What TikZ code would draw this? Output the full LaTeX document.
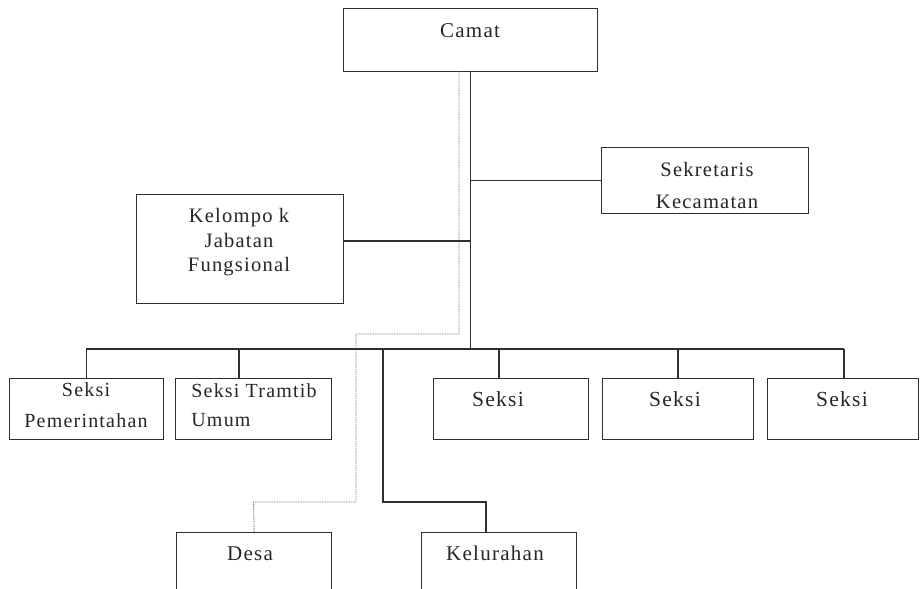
\documentclass[tikz,border=0pt]{standalone}
\usepackage{fontspec}
\setmainfont{Liberation Serif}[LetterSpace=6]
\definecolor{ink}{HTML}{262626}
\definecolor{linec}{HTML}{2E2E2E}
\definecolor{dotc}{HTML}{7A7A7A}
\newcommand\fsz[2]{\fontsize{#1}{#2}\selectfont}
\tikzset{
  orgbox/.style={draw=linec, line width=1.4pt, rectangle, inner sep=0pt, anchor=north west},
  lbl/.style={text=ink, inner sep=0pt, align=center},
  conn/.style={draw=linec, line width=1.4pt},
  dotl/.style={draw=dotc, line width=0.9pt, dash pattern=on 1.4pt off 1pt},
}
\begin{document}
\begin{tikzpicture}[x=1pt,y=-1pt]
\useasboundingbox (0,0) rectangle (921,589);
\clip (0,0) rectangle (921,589);
\fill[white] (0,0) rectangle (921,589);

% boxes
\node[orgbox, minimum width=254, minimum height=63] (camat) at (343,8) {};
\node[orgbox, minimum width=207, minimum height=66] (sek) at (601,147) {};
\node[orgbox, minimum width=207, minimum height=109] (kel) at (136,194) {};
\node[orgbox, minimum width=154, minimum height=61] (pem) at (9,378) {};
\node[orgbox, minimum width=156, minimum height=61] (tram) at (175,378) {};
\node[orgbox, minimum width=155, minimum height=61] (s1) at (433,378) {};
\node[orgbox, minimum width=151, minimum height=61] (s2) at (602,378) {};
\node[orgbox, minimum width=151, minimum height=61] (s3) at (767,378) {};
\node[orgbox, minimum width=155, minimum height=90] (desa) at (176,532) {};
\node[orgbox, minimum width=155, minimum height=90] (kelur) at (421,532) {};

% labels
\node[lbl, anchor=base, font=\fsz{21}{25}] (tcamat) at (470,37.3) {Camat};
\node[lbl, font=\fsz{20.5}{32}] (tsek) at (707,185.5) {Sekretaris\\Kecamatan};
\node[lbl, font=\fsz{20.5}{24.5}] (tkel) at (239,242.5) {Kelompo k\\Jabatan\\Fungsional};
\node[lbl, font=\fsz{20}{30.5}] (tpem) at (86,405.2) {Seksi\\Pemerintahan};
\node[lbl, align=left, font=\fsz{20}{29}] (ttram) at (254,405) {Seksi Tramtib\\Umum};
\node[lbl, anchor=base, font=\fsz{21.5}{25}] (ts1) at (498,406.7) {Seksi};
\node[lbl, anchor=base, font=\fsz{21.5}{25}] (ts2) at (675,406.7) {Seksi};
\node[lbl, anchor=base, font=\fsz{21.5}{25}] (ts3) at (842,406.7) {Seksi};
\node[lbl, anchor=base, font=\fsz{21}{25}] (tdesa) at (250,560.7) {Desa};
\node[lbl, anchor=base, font=\fsz{21}{25}] (tkelur) at (495,560.7) {Kelurahan};

% junction coordinates
\coordinate (busL) at (86,349);
\coordinate (busR) at (844,349);
\coordinate (kj) at (343,241);
\coordinate (dt) at (239,378);
\coordinate (d1) at (499,378);
\coordinate (d2) at (678,378);
\coordinate (d3) at (844,378);
\coordinate (kj2) at (383,349);
\coordinate (kbend) at (383,502);
\coordinate (kt) at (486,532);
\coordinate (dot0) at (459,71);
\coordinate (dotA) at (356,334);
\coordinate (dotB) at (253.5,502);

% connectors
\draw[conn] (camat.south) -- (camat.south |- busL);
\draw[conn] (kj) -- (kj -| camat.south);
\draw[conn] (sek.west) -- (sek.west -| camat.south);
\draw[conn] (busL) -- (busR);
\draw[conn] (pem.north) -- (pem.north |- busL);
\draw[conn] (dt) -- (dt |- busL);
\draw[conn] (d1) -- (d1 |- busL);
\draw[conn] (d2) -- (d2 |- busL);
\draw[conn] (d3) -- (busR);
\draw[conn] (kj2) -- (kbend) -| (kt);
\draw[dotl] (dot0) |- (dotA) |- (dotB) -- (desa.north);
\end{tikzpicture}
\end{document}
